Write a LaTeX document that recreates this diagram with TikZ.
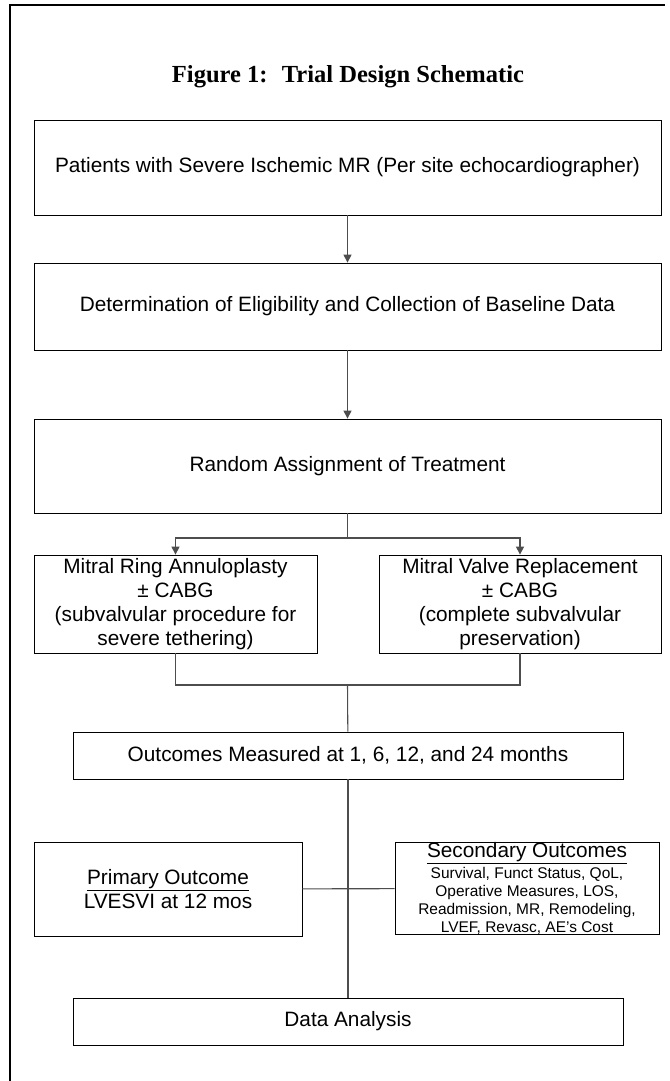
\documentclass[tikz,border=0pt]{standalone}
\usepackage{fontspec}
\setmainfont{Liberation Sans}
\newfontfamily\serifbold{Liberation Serif}
\usetikzlibrary{arrows.meta}

\begin{document}
\begin{tikzpicture}[x=0.75pt,y=-0.75pt,
  box/.style={draw=black,line width=0.6pt,align=center,inner sep=0pt,font=\fontsize{15.6pt}{18pt}\selectfont},
  wire/.style={draw=linegray,line width=0.8pt},
  arr/.style={wire,-{Triangle[length=6pt,width=6pt]}}]
\definecolor{linegray}{HTML}{4D4D4D}
\useasboundingbox (0,0) rectangle (670,1081);
\draw[line width=1.5pt] (10,1081) -- (10,5) -- (665,5);
\node[font=\serifbold\bfseries\fontsize{18.4pt}{22pt}\selectfont] (title) at (348,77) {Figure 1:~ Trial Design Schematic};
\node[box,minimum width=470.25pt,minimum height=71.25pt] (patients) at (347.5,167.5) {Patients with Severe Ischemic MR (Per site echocardiographer)};
\node[box,minimum width=470.25pt,minimum height=65.25pt] (elig) at (347.5,306.5) {Determination of Eligibility and Collection of Baseline Data};
\node[box,minimum width=470.25pt,minimum height=70.5pt] (random) at (347.5,466) {Random Assignment of Treatment};
\node[box,minimum width=212.25pt,minimum height=73.5pt] (ring) at (175.5,604) {Mitral Ring Annuloplasty\\± CABG\\(subvalvular procedure for\\severe tethering)};
\node[box,minimum width=211.5pt,minimum height=73.5pt] (valve) at (520,604) {Mitral Valve Replacement\\± CABG\\(complete subvalvular\\preservation)};
\node[box,minimum width=412.5pt,minimum height=35.25pt] (outcomes) at (348,755.5) {Outcomes Measured at 1, 6, 12, and 24 months};
\node[box,minimum width=201pt,minimum height=70.5pt] (primary) at (168,889) {\underline{Primary Outcome}\\LVESVI at 12 mos};
\node[box,minimum width=198pt,minimum height=65.25pt,font=\fontsize{11.6pt}{13.5pt}\selectfont] (secondary) at (527,888.5) {{\fontsize{15.6pt}{18pt}\selectfont\underline{Secondary Outcomes}}\\[1.5pt]Survival, Funct Status, QoL,\\Operative Measures, LOS,\\Readmission, MR, Remodeling,\\LVEF, Revasc, AE’s Cost};
\node[box,minimum width=412.5pt,minimum height=35.25pt] (analysis) at (348,1021.5) {Data Analysis};
\coordinate (split) at (347.5,538);
\coordinate (join) at (347.5,685);
\draw[arr] (patients) -- (elig);
\draw[arr] (elig) -- (random);
\draw[wire] (random) -- (split);
\draw[arr] (split) -| (ring);
\draw[arr] (split) -| (valve);
\draw[wire] (ring) |- (join) -| (valve);
\draw[wire] (join) -- (outcomes);
\draw[wire] (outcomes) -- (analysis);
\draw[wire] (primary) -- (secondary);
\end{tikzpicture}
\end{document}
